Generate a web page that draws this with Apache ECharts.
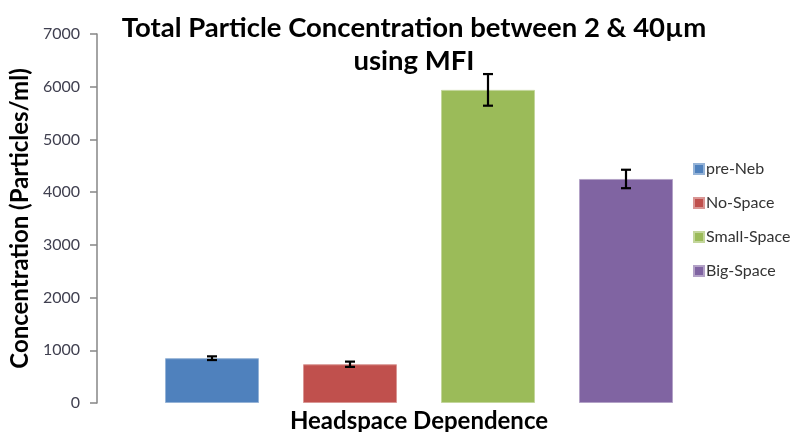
<!DOCTYPE html>
<html>
<head>
<meta charset="utf-8">
<script src="https://cdn.jsdelivr.net/npm/echarts@6/dist/echarts.min.js"></script>
<style>
html,body{margin:0;padding:0;background:#fff;}
#draw_1{width:798px;height:432px;}
</style>
</head>
<body>
<div id="draw_1"></div>
<script>
var seriesNames = ['pre-Neb', 'No-Space', 'Small-Space', 'Big-Space'];
var means = [850, 735, 5940, 4250];
var errors = [35, 50, 300, 175];
var colors = ['#4F81BD', '#C0504D', '#9BBB59', '#8064A2'];
var borders = ['#95B3D7', '#D99694', '#C3D69B', '#B3A2C7'];
var yTicks = [0, 1000, 2000, 3000, 4000, 5000, 6000, 7000];

var myChart_1 = echarts.init(document.getElementById('draw_1'));
draw_1();

function draw_1(){
	var series = [];
	for (var i = 0; i < seriesNames.length; i++) {
		var d = seriesNames.map(function(){ return '-'; });
		d[i] = means[i];
		series.push({
			name: seriesNames[i], type: 'bar', data: d,
			barWidth: 94, barGap: '-100%',
			itemStyle: {color: colors[i], borderColor: borders[i], borderWidth: 1}
		});
	}
	// error bars
	series.push({
		type: 'custom', name: 'err', z: 10, silent: true,
		data: means.map(function(m, i){ return [i, m, errors[i]]; }),
		renderItem: function(params, api){
			var c = api.coord([api.value(0), api.value(1)]);
			var h = api.size([0, api.value(2)])[1];
			var cap = 5;
			var st = {stroke: '#000', lineWidth: 2.2};
			return {type: 'group', children: [
				{type: 'line', shape: {x1: c[0], y1: c[1] - h, x2: c[0], y2: c[1] + h}, style: st},
				{type: 'line', shape: {x1: c[0] - cap, y1: c[1] - h, x2: c[0] + cap, y2: c[1] - h}, style: st},
				{type: 'line', shape: {x1: c[0] - cap, y1: c[1] + h, x2: c[0] + cap, y2: c[1] + h}, style: st}
			]};
		}
	});
	var option = {
		animation: false,
		textStyle: {fontFamily: 'Lato'},
		title: {
			text: 'Total Particle Concentration between 2 & 40µm\nusing MFI',
			left: 409, top: 7, textAlign: 'center',
			textStyle: {fontFamily: 'Lato', fontWeight: 'bold', fontSize: 27.5, lineHeight: 33, color: '#000'}
		},
		legend: {
			data: seriesNames, orient: 'vertical', left: 688, top: 156,
			icon: 'rect', itemWidth: 10, itemHeight: 10, itemGap: 18,
			textStyle: {fontFamily: 'Lato', fontSize: 16, lineHeight: 16, color: '#333', padding: [0, 0, 0, -3]}
		},
		grid: {left: 143, right: 103, top: 34, bottom: 29, outerBoundsMode: 'none'},
		xAxis: {
			type: 'category', data: seriesNames,
			axisLine: {show: false}, axisTick: {show: false}, axisLabel: {show: false},
			name: 'Headspace Dependence', nameLocation: 'middle', nameGap: 6,
			nameTextStyle: {fontFamily: 'Lato', fontWeight: 'bold', fontSize: 24, color: '#000', verticalAlign: 'top'}
		},
		yAxis: {
			type: 'value', min: yTicks[0], max: yTicks[yTicks.length - 1], interval: 1000,
			offset: 46,
			splitLine: {show: false},
			axisLine: {show: true, lineStyle: {color: '#868686', width: 1.5}},
			axisTick: {show: true, length: 7, lineStyle: {color: '#868686', width: 1.5}},
			axisLabel: {fontFamily: 'Lato', fontSize: 16, color: '#404050', margin: 17,
				formatter: function(v){ return String(v); }},
			name: 'Concentration (Particles/ml)', nameLocation: 'middle', nameGap: 63,
			nameTextStyle: {fontFamily: 'Lato', fontWeight: 'bold', fontSize: 24, color: '#000'}
		},
		series: series
	};
	myChart_1.setOption(option, true);
}
</script>
</body>
</html>
